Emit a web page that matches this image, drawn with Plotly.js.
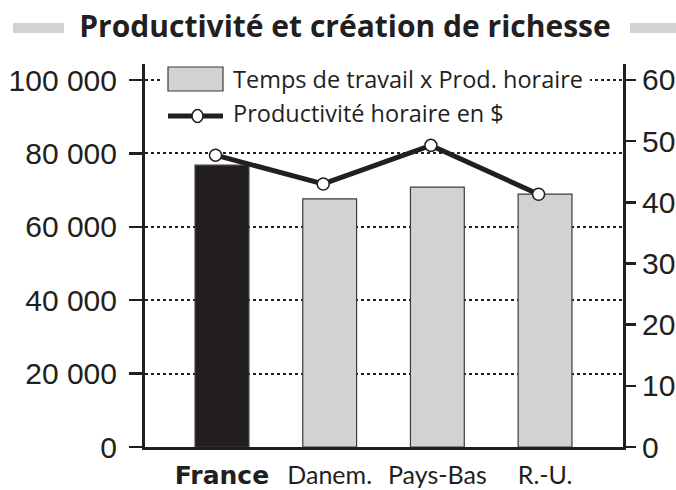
<!DOCTYPE html>
<html>
<head>
<meta charset="utf-8">
<script src="https://cdn.plot.ly/plotly-3.0.1.min.js"></script>
<style>html,body{margin:0;padding:0;background:#fff;}#chart{width:676px;height:490px;}</style>
</head>
<body>
<div id="chart"></div>
<script>
// ---- data ----
var categories = ['France', 'Danem.', 'Pays-Bas', 'R.-U.'];
var highlighted = [true, false, false, false];
var richesse = [76800, 67600, 70800, 68900];          // Temps de travail x Prod. horaire
var productivite = [47.7, 43.0, 49.3, 41.3];          // Productivité horaire en $
var seriesNames = ['Temps de travail x Prod. horaire', 'Productivité horaire en $'];
var chartTitle = 'Productivité et création de richesse';
var leftTicks = [0, 20000, 40000, 60000, 80000, 100000];
var rightTicks = [0, 10, 20, 30, 40, 50, 60];

// ---- geometry helpers (pixel -> paper) ----
var W = 676, H = 490, L = 145, R = 623, T = 64, B = 447;
function px(x) { return (x - L) / (R - L); }
function py(y) { return (B - y) / (B - T); }

var dark = '#231f20', grey = '#d1d2d4';

var tickText = categories.map(function (c, i) {
  return highlighted[i]
    ? '<span style="font-family:\'DejaVu Sans\';font-weight:bold">' + c + '</span>'
    : c;
});

var bars = {
  type: 'bar', x: categories, y: richesse, name: seriesNames[0],
  width: 0.5,
  marker: {
    color: highlighted.map(function (h) { return h ? dark : grey; }),
    line: { color: '#3a3a3a', width: 1.2 }
  },
  xaxis: 'x', yaxis: 'y', hoverinfo: 'x+y'
};
var line = {
  type: 'scatter', mode: 'lines+markers', x: categories, y: productivite, name: seriesNames[1],
  line: { color: dark, width: 5 },
  marker: { symbol: 'circle', size: 12, color: '#fff', line: { color: dark, width: 1.5 } },
  xaxis: 'x2', yaxis: 'y2', cliponaxis: false
};

var shapes = [
  // decorative title bars
  { type: 'rect', xref: 'paper', yref: 'paper', x0: px(13), x1: px(64), y0: py(33), y1: py(23), fillcolor: grey, line: { width: 0 } },
  { type: 'rect', xref: 'paper', yref: 'paper', x0: px(630), x1: px(690), y0: py(33), y1: py(23), fillcolor: grey, line: { width: 0 } },
  // legend background
  { type: 'rect', xref: 'paper', yref: 'paper', x0: px(163), x1: px(590), y0: py(96), y1: py(66), fillcolor: '#fff', line: { width: 0 }, layer: 'above' },
  // legend swatches
  { type: 'rect', xref: 'paper', yref: 'paper', x0: px(168), x1: px(223), y0: py(91), y1: py(67), fillcolor: grey, line: { color: '#3a3a3a', width: 1.2 }, layer: 'above' },
  { type: 'line', xref: 'paper', yref: 'paper', x0: px(168), x1: px(223), y0: py(116), y1: py(116), line: { color: dark, width: 5 }, layer: 'above' },
  { type: 'circle', xref: 'paper', yref: 'paper', x0: px(192), x1: px(203), y0: py(122.5), y1: py(109.5), fillcolor: '#fff', line: { color: dark, width: 1.5 }, layer: 'above' }
];

var legendFont = { family: 'Open Sans, sans-serif', size: 23.5, color: dark };
var annotations = [
  { xref: 'paper', yref: 'paper', x: px(231), y: py(79), xanchor: 'left', yanchor: 'middle', text: seriesNames[0], showarrow: false, font: legendFont },
  { xref: 'paper', yref: 'paper', x: px(231), y: py(113), xanchor: 'left', yanchor: 'middle', text: seriesNames[1], showarrow: false, font: legendFont }
];

var layout = {
  width: W, height: H,
  margin: { l: L, r: W - R, t: T, b: H - B, pad: 0 },
  paper_bgcolor: '#fff', plot_bgcolor: '#fff',
  showlegend: false,
  separators: ', ',
  title: {
    text: '<b>' + chartTitle + '</b>',
    font: { family: 'Open Sans, sans-serif', size: 30, color: dark },
    xref: 'container', yref: 'container', x: 345 / W, y: 1 - 26 / H, xanchor: 'center', yanchor: 'middle'
  },
  xaxis: {
    type: 'category', range: [-0.715, 3.724],
    tickvals: categories, ticktext: tickText,
    ticks: '', showgrid: false, zeroline: false,
    showline: true, linecolor: dark, linewidth: 3,
    ticklabelstandoff: 4,
    tickfont: { family: 'Lato, sans-serif', size: 25, color: dark },
    fixedrange: true
  },
  xaxis2: {
    type: 'category', overlaying: 'x', range: [-0.655, 3.784],
    visible: false, fixedrange: true
  },
  yaxis: {
    range: [0, 104360], tickvals: leftTicks, tickformat: ',d',
    ticks: 'outside', ticklen: 13, tickwidth: 2.5, tickcolor: dark,
    showline: true, linecolor: dark, linewidth: 3,
    showgrid: true, gridcolor: dark, gridwidth: 2, griddash: 'dot',
    zeroline: false, ticklabelstandoff: 6,
    tickfont: { family: 'Liberation Sans, Arial, sans-serif', size: 30, color: dark },
    fixedrange: true
  },
  yaxis2: {
    overlaying: 'y', side: 'right', range: [0, 62.6], tickvals: rightTicks,
    ticks: 'outside', ticklen: 10, tickwidth: 2.5, tickcolor: dark,
    showline: true, linecolor: dark, linewidth: 3,
    showgrid: false, zeroline: false,
    tickfont: { family: 'Liberation Sans, Arial, sans-serif', size: 30, color: dark },
    fixedrange: true
  },
  shapes: shapes,
  annotations: annotations
};

Plotly.newPlot('chart', [bars, line], layout, { displayModeBar: false, staticPlot: true });
</script>
</body>
</html>
